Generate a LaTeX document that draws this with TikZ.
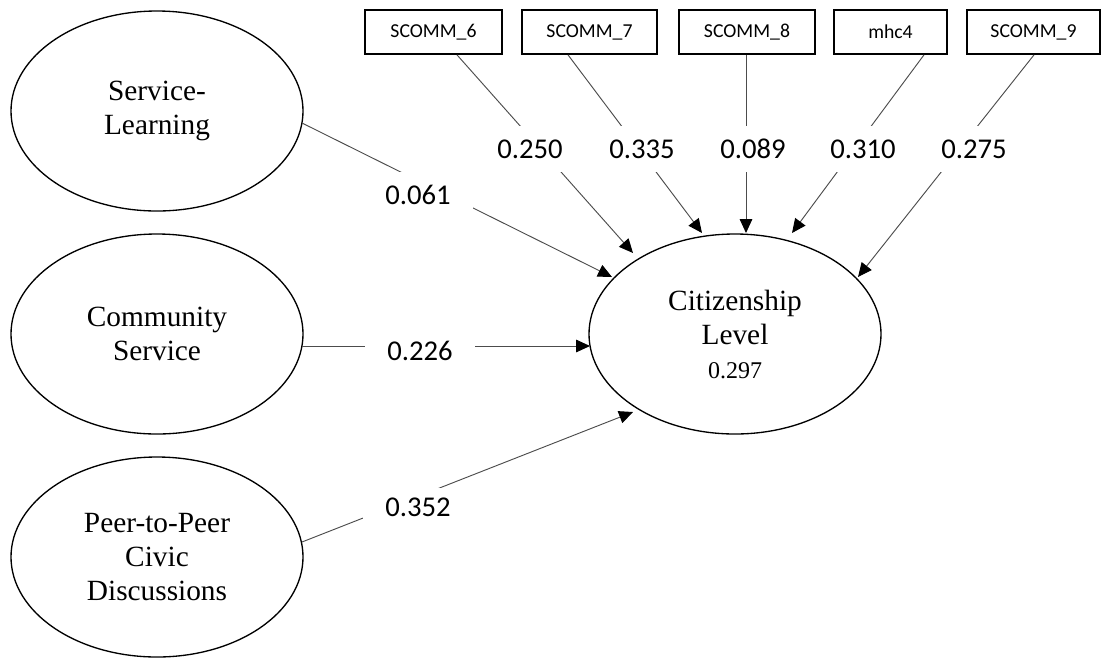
\documentclass[tikz,border=0pt]{standalone}
\usepackage{fontspec}
\setmainfont{Liberation Serif}
\newfontfamily\calib{Carlito}
\usetikzlibrary{shapes.geometric,arrows.meta,calc}
\begin{document}
\begin{tikzpicture}[x=0.75pt,y=-0.75pt,
  lat/.style={ellipse, draw, line width=1pt, minimum width=219pt, minimum height=150pt, inner sep=0pt, align=center, font=\fontsize{22}{25.5}\selectfont},
  obs/.style={draw, line width=1.3pt, minimum height=33pt, inner sep=0pt, font=\calib\fontsize{14.8}{17}\selectfont},
  conn/.style={draw=black!70, line width=0.7pt, -{Triangle[length=10.5pt,width=9.5pt,color=black]}},
  lab/.style={fill=white, inner sep=0pt, minimum width=83pt, minimum height=34pt, font=\calib\fontsize{21.5}{24}\selectfont}
]
\useasboundingbox (0,0) rectangle (1102,658);

% latent variables
\node[lat] (sl) at (157,111) {Service-\\Learning};
\node[lat] (cs) at (157,334) {Community\\Service};
\node[lat] (pp) at (157,557) {Peer-to-Peer\\Civic\\Discussions};
\node[lat] (cl) at (735,334) {Citizenship\\Level\\{\fontsize{18}{22}\selectfont 0.297}};

% observed indicators
\node[obs, minimum width=102.75pt] (b6) at (433.5,32) {SCOMM\_6};
\node[obs, minimum width=101.25pt] (b7) at (589.5,32) {SCOMM\_7};
\node[obs, minimum width=102pt] (b8) at (747,32) {SCOMM\_8};
\node[obs, minimum width=84.75pt] (bm) at (890.5,32) {mhc4};
\node[obs, minimum width=99.75pt] (b9) at (1033.5,32) {SCOMM\_9};

% connector end points
\coordinate (s6) at ($(b6.south)+(23.5,0)$);
\coordinate (s7) at ($(b7.south)+(-21.5,0)$);
\coordinate (s8) at ($(b8.south)+(-1,0)$);
\coordinate (sm) at ($(bm.south)+(33.5,0)$);
\coordinate (s9) at ($(b9.south)+(0.5,0)$);
\coordinate (t6) at (633,253);
\coordinate (t7) at (702,233);
\coordinate (t8) at (746,233);
\coordinate (tm) at (792,233);
\coordinate (t9) at (858,277);
\coordinate (ssl) at (302,123);
\coordinate (tsl) at (612,277);
\coordinate (scs) at (302,346);
\coordinate (tcs) at (590,346);
\coordinate (spp) at (302,542);
\coordinate (tpp) at (633,412);

% connectors
\draw[conn] (s6) -- (t6);
\draw[conn] (s7) -- (t7);
\draw[conn] (s8) -- (t8);
\draw[conn] (sm) -- (tm);
\draw[conn] (s9) -- (t9);
\draw[conn] (ssl) -- (tsl);
\draw[conn] (scs) -- (tcs);
\draw[conn] (spp) -- (tpp);

% coefficient labels
\node[lab] (l6) at (530,149) {0.250};
\node[lab] (l7) at (642,149) {0.335};
\node[lab] (l8) at (753,149) {0.089};
\node[lab] (lm) at (863,149) {0.310};
\node[lab] (l9) at (974,149) {0.275};
\node[lab] (lsl) at (418,195) {0.061};
\node[lab] (lcs) at (420,351) {0.226};
\node[lab, minimum height=28pt] (lpp) at (418,507) {0.352};
\end{tikzpicture}
\end{document}
